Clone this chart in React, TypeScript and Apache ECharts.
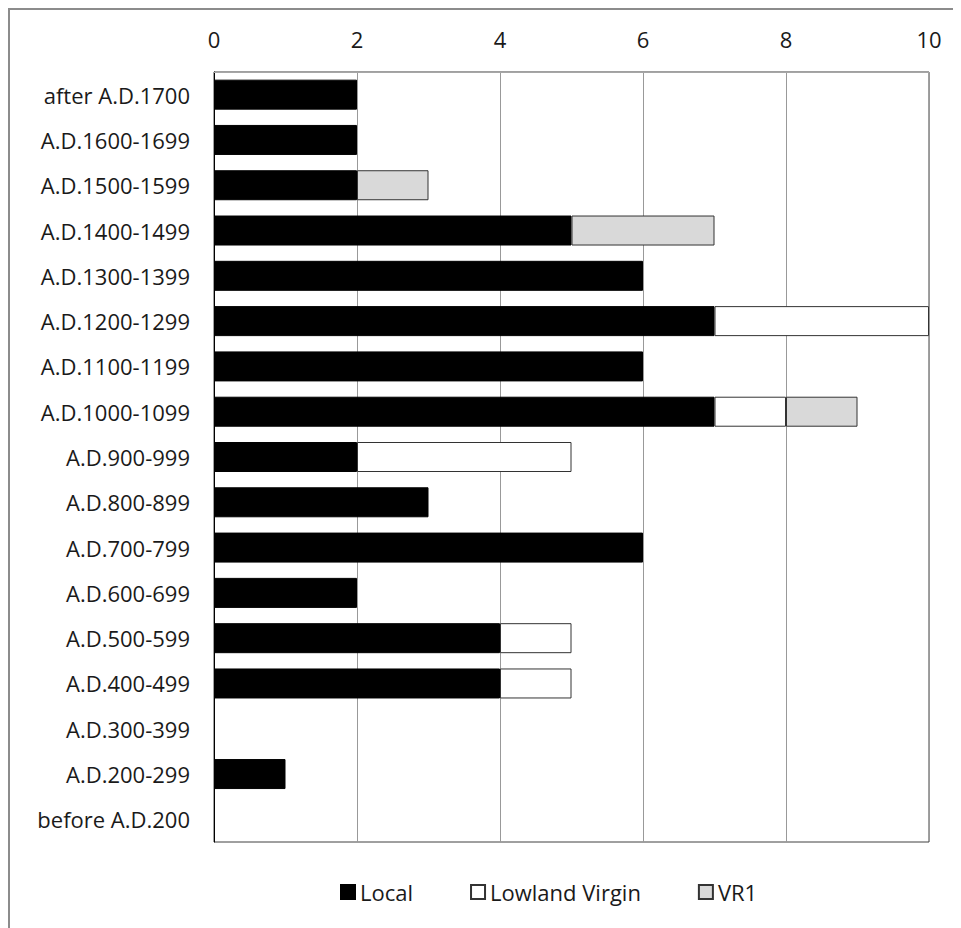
import React, { useEffect, useRef } from "react";
import * as echarts from "echarts";

const categories = [
  "after A.D.1700",
  "A.D.1600-1699",
  "A.D.1500-1599",
  "A.D.1400-1499",
  "A.D.1300-1399",
  "A.D.1200-1299",
  "A.D.1100-1199",
  "A.D.1000-1099",
  "A.D.900-999",
  "A.D.800-899",
  "A.D.700-799",
  "A.D.600-699",
  "A.D.500-599",
  "A.D.400-499",
  "A.D.300-399",
  "A.D.200-299",
  "before A.D.200",
];

const localValues = [2, 2, 2, 5, 6, 7, 6, 7, 2, 3, 6, 2, 4, 4, 0, 1, 0];
const lowlandValues = [0, 0, 0, 0, 0, 3, 0, 1, 3, 0, 0, 0, 1, 1, 0, 0, 0];
const vr1Values = [0, 0, 1, 2, 0, 0, 0, 1, 0, 0, 0, 0, 0, 0, 0, 0, 0];

const FONT = "Open Sans";
const FS = 22;

export default function App() {
  const ref = useRef<HTMLDivElement>(null);
  useEffect(() => {
    if (!ref.current) return;
    const chart = echarts.init(ref.current, undefined, { renderer: "svg" });
    const toData = (arr: number[]) => arr.map((v) => (v === 0 ? null : v));
    chart.setOption({
      animation: false,
      textStyle: { fontFamily: FONT },
      grid: {
        left: 204,
        top: 62,
        width: 715,
        height: 770,
        show: true,
        borderColor: "#404040",
        borderWidth: 1,
        containLabel: false,
      },
      xAxis: {
        type: "value",
        position: "top",
        min: 0,
        max: 10,
        interval: 2,
        axisLine: { show: true, lineStyle: { color: "#a6a6a6", width: 1 } },
        axisTick: { show: false },
        axisLabel: { color: "#1a1a1a", fontSize: FS, margin: 22, fontFamily: FONT },
        splitLine: { show: true, lineStyle: { color: "#999", width: 1 } },
      },
      yAxis: {
        type: "category",
        inverse: true,
        data: categories,
        axisLine: { show: true, lineStyle: { color: "#000", width: 1 } },
        axisTick: { show: false },
        axisLabel: { color: "#1a1a1a", fontSize: FS, margin: 24, fontFamily: FONT },
        splitLine: { show: false },
      },
      legend: {
        top: 866,
        left: 325,
        itemWidth: 14,
        itemHeight: 14,
        itemGap: 57,
        icon: "rect",
        textStyle: { color: "#1a1a1a", fontSize: FS, fontFamily: FONT },
        data: ["Local", "Lowland Virgin", "VR1"],
      },
      series: [
        {
          name: "Local",
          type: "bar",
          stack: "total",
          barWidth: 30,
          data: toData(localValues),
          itemStyle: { color: "#000", borderColor: "#000", borderWidth: 1 },
        },
        {
          name: "Lowland Virgin",
          type: "bar",
          stack: "total",
          barWidth: 30,
          data: toData(lowlandValues),
          itemStyle: { color: "#fff", borderColor: "#333", borderWidth: 1 },
        },
        {
          name: "VR1",
          type: "bar",
          stack: "total",
          barWidth: 30,
          data: toData(vr1Values),
          itemStyle: { color: "#d9d9d9", borderColor: "#333", borderWidth: 1 },
        },
      ],
    });
    return () => chart.dispose();
  }, []);
  return (
    <div
      style={{
        border: "2px solid #8c8c8c",
        width: 960,
        height: 930,
        boxSizing: "content-box",
        overflow: "hidden",
      }}
    >
      <div ref={ref} style={{ width: 960, height: 930 }} />
    </div>
  );
}
